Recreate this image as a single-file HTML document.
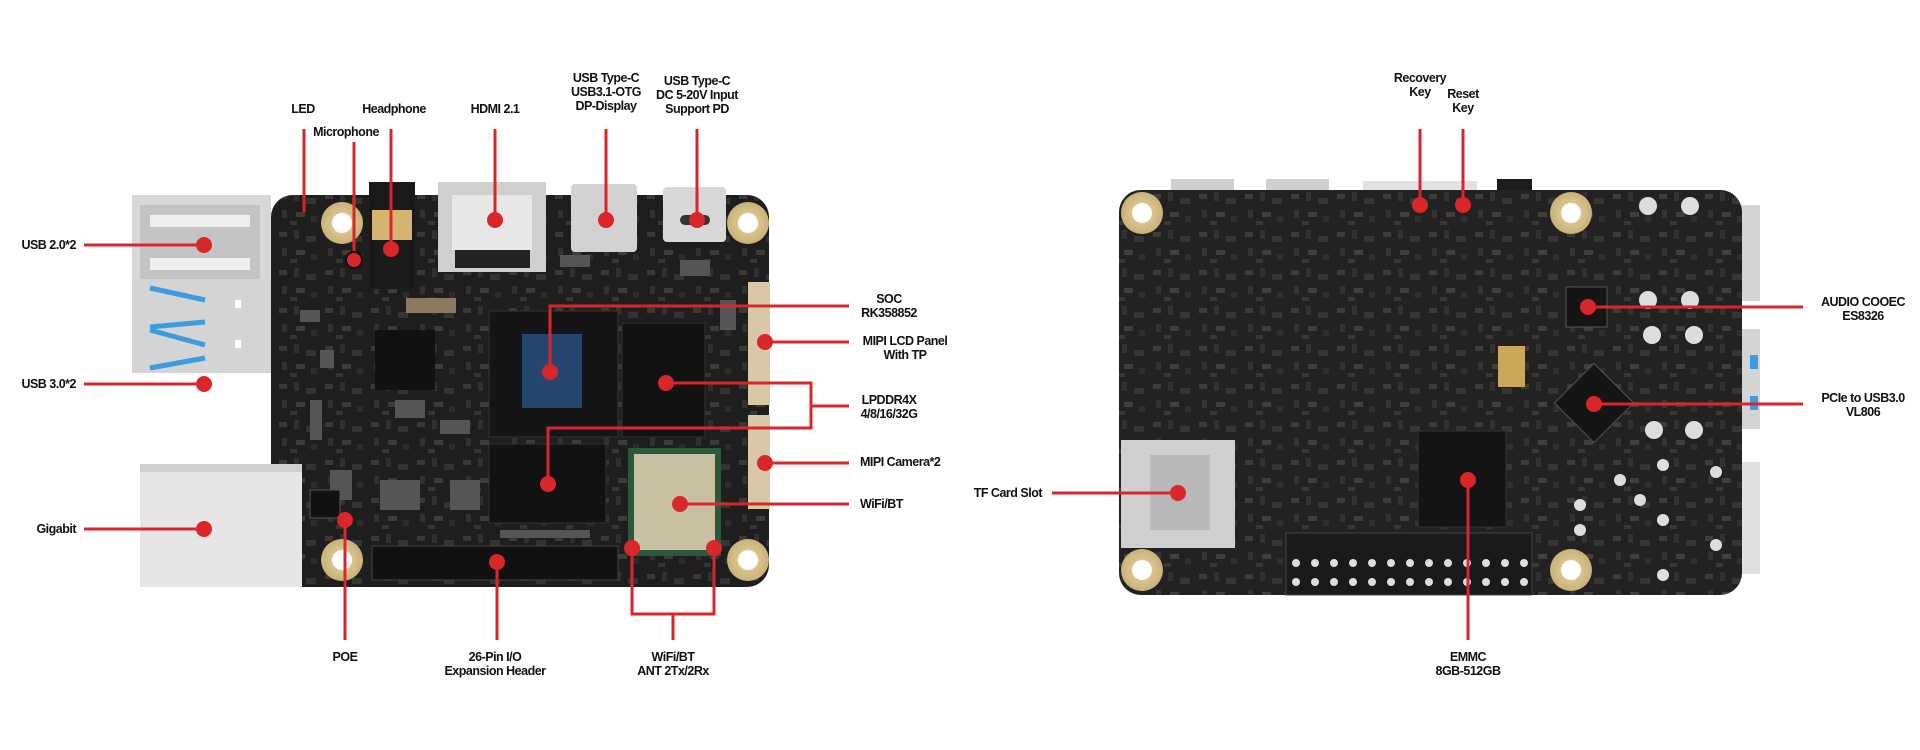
<!DOCTYPE html>
<html><head><meta charset="utf-8"><style>
html,body{margin:0;padding:0;background:#fff;width:1920px;height:750px;overflow:hidden}
svg text{font-family:"Liberation Sans",sans-serif;font-weight:bold;font-size:12.5px;fill:#111;letter-spacing:-0.5px}
</style></head><body>
<svg width="1920" height="750" viewBox="0 0 1920 750" xmlns="http://www.w3.org/2000/svg">
<defs>
<radialGradient id="hole"><stop offset="0.45" stop-color="#fff"/><stop offset="0.5" stop-color="#d9c48e"/><stop offset="1" stop-color="#c9b178"/></radialGradient>
<pattern id="comp" width="46" height="38" patternUnits="userSpaceOnUse">
<rect x="3" y="4" width="8" height="5" fill="#6a6152"/>
<rect x="18" y="2" width="5" height="9" fill="#4a4a4a"/>
<rect x="30" y="8" width="10" height="6" fill="#555"/>
<rect x="6" y="20" width="5" height="8" fill="#4e4e4e"/>
<rect x="20" y="22" width="9" height="5" fill="#746a58"/>
<rect x="35" y="26" width="6" height="6" fill="#444"/>
<rect x="14" y="31" width="7" height="4" fill="#5a5a5a"/>
</pattern>
</defs>
<!-- LEFT BOARD -->
<rect x="271" y="195" width="498" height="392" rx="22" fill="#1e1e1e"/>
<rect x="271" y="195" width="498" height="392" rx="22" fill="url(#comp)" opacity="0.4"/>
<rect x="132" y="195" width="139" height="106" fill="#d8d8d8"/>
<rect x="140" y="205" width="120" height="86" fill="#c4c4c4"/>
<rect x="150" y="215" width="100" height="12" fill="#eee"/>
<rect x="150" y="258" width="100" height="12" fill="#eee"/>
<rect x="132" y="279" width="139" height="94" fill="#d4d4d4"/>
<path d="M150 288 L205 300 M150 327 L205 322 M150 330 L205 345 M150 368 L205 358" stroke="#3d9be0" stroke-width="5" fill="none"/>
<rect x="235" y="300" width="6" height="8" fill="#fff"/><rect x="235" y="340" width="6" height="8" fill="#fff"/>
<rect x="140" y="464" width="162" height="123" fill="#e6e6e6"/>
<rect x="140" y="464" width="162" height="8" fill="#cfcfcf"/>
<rect x="369" y="182" width="46" height="107" fill="#1a1a1a"/>
<rect x="372" y="210" width="40" height="30" fill="#d6b370"/>
<rect x="438" y="182" width="108" height="90" fill="#cfcfcf"/>
<rect x="452" y="195" width="80" height="55" fill="#e8e8e8"/>
<rect x="455" y="250" width="75" height="18" fill="#222"/>
<rect x="571" y="184" width="66" height="68" rx="4" fill="#d2d2d2"/>
<rect x="663" y="187" width="63" height="55" rx="4" fill="#d8d8d8"/>
<rect x="680" y="215" width="30" height="10" rx="5" fill="#333"/>
<circle cx="342" cy="223" r="21" fill="url(#hole)"/>
<circle cx="748" cy="223" r="21" fill="url(#hole)"/>
<circle cx="342" cy="560" r="21" fill="url(#hole)"/>
<circle cx="748" cy="560" r="21" fill="url(#hole)"/>
<g fill="#555">
<rect x="375" y="330" width="60" height="60" fill="#111"/>
<rect x="406" y="298" width="50" height="15" fill="#8a7a60"/>
<rect x="300" y="310" width="20" height="12"/><rect x="320" y="350" width="14" height="18"/>
<rect x="395" y="400" width="30" height="18"/><rect x="440" y="420" width="30" height="14"/>
<rect x="380" y="480" width="40" height="30"/><rect x="330" y="470" width="22" height="30"/>
<rect x="560" y="255" width="30" height="12"/><rect x="680" y="260" width="30" height="16"/>
<rect x="720" y="300" width="16" height="30"/><rect x="310" y="400" width="12" height="40"/>
<rect x="450" y="480" width="30" height="30"/><rect x="500" y="530" width="90" height="8"/>
</g>
<rect x="310" y="490" width="30" height="28" fill="#111" stroke="#555"/>
<rect x="489" y="311" width="129" height="126" fill="#151515" stroke="#333"/>
<rect x="522" y="334" width="60" height="74" fill="#25466e"/>
<rect x="622" y="323" width="83" height="114" fill="#121212" stroke="#333"/>
<rect x="489" y="444" width="117" height="79" fill="#121212" stroke="#333"/>
<rect x="628" y="448" width="93" height="108" fill="#2a5a3a"/>
<rect x="634" y="454" width="81" height="96" fill="#c9bfa3"/>
<rect x="748" y="282" width="22" height="123" fill="#d8c8a8"/>
<rect x="748" y="415" width="22" height="94" fill="#d8c8a8"/>
<rect x="372" y="546" width="246" height="34" fill="#111" stroke="#444"/>
<!-- right board -->
<rect x="1171" y="179" width="63" height="14" fill="#d0d0d0"/>
<rect x="1266" y="179" width="63" height="14" fill="#d0d0d0"/>
<rect x="1363" y="181" width="114" height="12" fill="#e2e2e2"/>
<rect x="1497" y="179" width="35" height="24" fill="#1c1c1c"/>
<rect x="1736" y="205" width="24" height="96" fill="#d4d4d4"/>
<rect x="1736" y="329" width="24" height="100" fill="#d4d4d4"/>
<rect x="1750" y="355" width="8" height="14" fill="#3d9be0"/><rect x="1750" y="396" width="8" height="14" fill="#3d9be0"/>
<rect x="1736" y="462" width="24" height="112" fill="#e0e0e0"/>
<rect x="1119" y="190" width="623" height="405" rx="22" fill="#222"/>
<rect x="1119" y="190" width="623" height="405" rx="22" fill="url(#comp)" opacity="0.4"/>
<circle cx="1142" cy="213" r="21" fill="url(#hole)"/>
<circle cx="1571" cy="213" r="21" fill="url(#hole)"/>
<circle cx="1142" cy="570" r="21" fill="url(#hole)"/>
<circle cx="1571" cy="570" r="21" fill="url(#hole)"/>
<rect x="1121" y="440" width="114" height="108" fill="#cfcfcf"/>
<rect x="1150" y="455" width="60" height="75" fill="#b8b8b8"/>
<rect x="1418" y="431" width="88" height="96" fill="#141414" stroke="#333"/>
<rect x="1566" y="287" width="41" height="40" fill="#151515" stroke="#555"/>
<rect x="1566" y="375" width="56" height="56" fill="#151515" stroke="#555" transform="rotate(45 1594 403)"/>
<rect x="1498" y="346" width="27" height="41" fill="#c9a85c"/>
<rect x="1286" y="533" width="246" height="62" fill="#1a1a1a" stroke="#444"/>
<g fill="#ddd">
<circle cx="1296" cy="563" r="4"/><circle cx="1315" cy="563" r="4"/><circle cx="1334" cy="563" r="4"/><circle cx="1353" cy="563" r="4"/><circle cx="1372" cy="563" r="4"/><circle cx="1391" cy="563" r="4"/><circle cx="1410" cy="563" r="4"/><circle cx="1429" cy="563" r="4"/><circle cx="1448" cy="563" r="4"/><circle cx="1467" cy="563" r="4"/><circle cx="1486" cy="563" r="4"/><circle cx="1505" cy="563" r="4"/><circle cx="1524" cy="563" r="4"/>
<circle cx="1296" cy="582" r="4"/><circle cx="1315" cy="582" r="4"/><circle cx="1334" cy="582" r="4"/><circle cx="1353" cy="582" r="4"/><circle cx="1372" cy="582" r="4"/><circle cx="1391" cy="582" r="4"/><circle cx="1410" cy="582" r="4"/><circle cx="1429" cy="582" r="4"/><circle cx="1448" cy="582" r="4"/><circle cx="1467" cy="582" r="4"/><circle cx="1486" cy="582" r="4"/><circle cx="1505" cy="582" r="4"/><circle cx="1524" cy="582" r="4"/>
<circle cx="1648" cy="206" r="9"/><circle cx="1690" cy="206" r="9"/><circle cx="1648" cy="300" r="9"/><circle cx="1690" cy="300" r="9"/>
<circle cx="1652" cy="335" r="9"/><circle cx="1694" cy="335" r="9"/><circle cx="1654" cy="430" r="9"/><circle cx="1694" cy="430" r="9"/>
<circle cx="1663" cy="465" r="6"/><circle cx="1716" cy="472" r="6"/><circle cx="1620" cy="480" r="6"/><circle cx="1640" cy="500" r="6"/><circle cx="1663" cy="520" r="6"/><circle cx="1716" cy="545" r="6"/><circle cx="1663" cy="575" r="6"/><circle cx="1580" cy="505" r="6"/><circle cx="1580" cy="530" r="6"/>
</g>
<!-- RED LINES -->
<g stroke="#d9262a" stroke-width="3" fill="none">
<path d="M304 129V212"/><path d="M354 142V260"/><path d="M391 129V249"/><path d="M495 129V220"/><path d="M606 129V220"/><path d="M697 129V220"/>
<path d="M84 245H204"/><path d="M84 384H204"/><path d="M84 529H204"/>
<path d="M849 306H550V372"/><path d="M765 342H849"/>
<path d="M666 383H811V428H548V484"/><path d="M811 406H849"/>
<path d="M765 463H849"/><path d="M680 504H849"/>
<path d="M345 520V640"/><path d="M497 562V640"/>
<path d="M632 548V614H714V548"/><path d="M673 614V640"/>
<path d="M1420 129V205"/><path d="M1463 129V205"/>
<path d="M1588 307H1803"/><path d="M1594 404H1803"/>
<path d="M1052 493H1178"/><path d="M1468 480V640"/>
</g>
<g fill="#d9262a">
<circle cx="354" cy="260" r="8" stroke="#111" stroke-width="2"/>
<circle cx="391" cy="249" r="8"/><circle cx="495" cy="220" r="8"/><circle cx="606" cy="220" r="8"/><circle cx="697" cy="220" r="8"/>
<circle cx="204" cy="245" r="8"/><circle cx="204" cy="384" r="8"/><circle cx="204" cy="529" r="8"/>
<circle cx="550" cy="372" r="8"/><circle cx="765" cy="342" r="8"/><circle cx="666" cy="383" r="8"/><circle cx="548" cy="484" r="8"/>
<circle cx="765" cy="463" r="8"/><circle cx="680" cy="504" r="8"/><circle cx="345" cy="520" r="8"/><circle cx="497" cy="562" r="8"/>
<circle cx="632" cy="548" r="8"/><circle cx="714" cy="548" r="8"/>
<circle cx="1420" cy="205" r="8"/><circle cx="1463" cy="205" r="8"/><circle cx="1588" cy="307" r="8"/><circle cx="1594" cy="404" r="8"/>
<circle cx="1178" cy="493" r="8"/><circle cx="1468" cy="480" r="8"/>
</g>
<g text-anchor="middle">
<text x="303" y="113">LED</text>
<text x="394" y="113">Headphone</text>
<text x="346" y="136">Microphone</text>
<text x="495" y="113">HDMI 2.1</text>
<text x="606" y="82">USB Type-C</text><text x="606" y="96">USB3.1-OTG</text><text x="606" y="110">DP-Display</text>
<text x="697" y="85">USB Type-C</text><text x="697" y="99">DC 5-20V Input</text><text x="697" y="113">Support PD</text>
<text x="889" y="303">SOC</text><text x="889" y="317">RK358852</text>
<text x="905" y="345">MIPI LCD Panel</text><text x="905" y="359">With TP</text>
<text x="889" y="404">LPDDR4X</text><text x="889" y="418">4/8/16/32G</text>
<text x="345" y="661">POE</text>
<text x="495" y="661">26-Pin I/O</text><text x="495" y="675">Expansion Header</text>
<text x="673" y="661">WiFi/BT</text><text x="673" y="675">ANT 2Tx/2Rx</text>
<text x="1420" y="82">Recovery</text><text x="1420" y="96">Key</text>
<text x="1463" y="98">Reset</text><text x="1463" y="112">Key</text>
<text x="1863" y="306">AUDIO COOEC</text><text x="1863" y="320">ES8326</text>
<text x="1863" y="402">PCIe to USB3.0</text><text x="1863" y="416">VL806</text>
<text x="1468" y="661">EMMC</text><text x="1468" y="675">8GB-512GB</text>
</g>
<g text-anchor="end">
<text x="76" y="249">USB 2.0*2</text>
<text x="76" y="388">USB 3.0*2</text>
<text x="76" y="533">Gigabit</text>
<text x="1042" y="497">TF Card Slot</text>
</g>
<text x="860" y="466">MIPI Camera*2</text>
<text x="860" y="508">WiFi/BT</text>
</svg>
</body></html>
